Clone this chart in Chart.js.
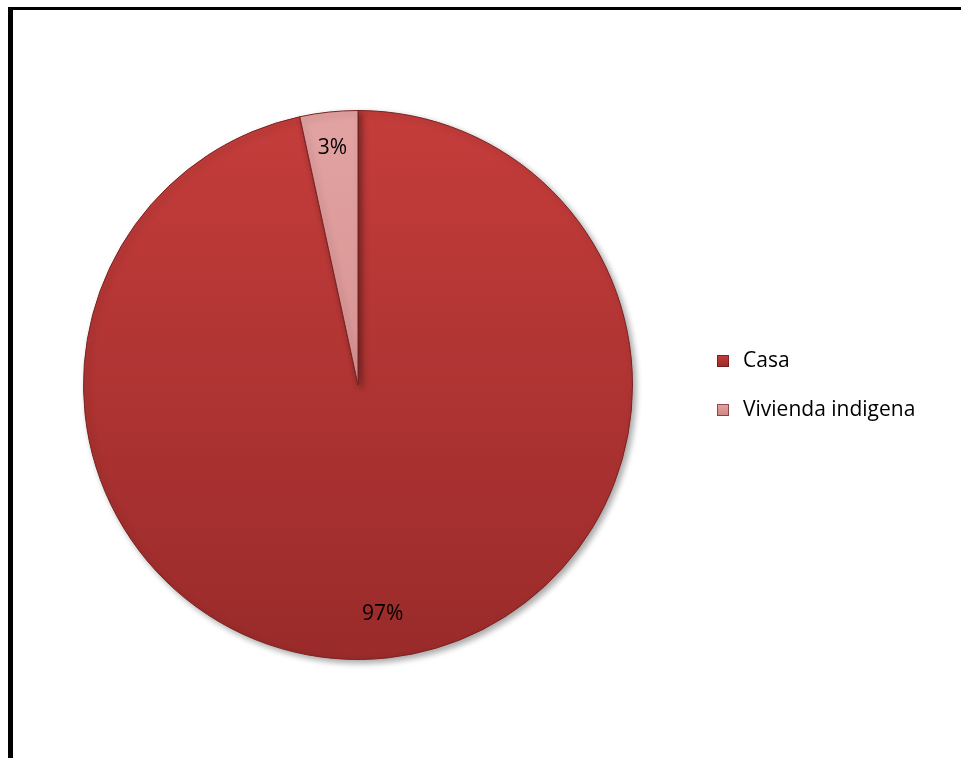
<!DOCTYPE html>
<html>
<head>
<meta charset="utf-8">
<script src="https://cdn.jsdelivr.net/npm/chart.js"></script>
<style>
  html, body { margin: 0; padding: 0; background: #fff; }
  #wrap { position: relative; width: 961px; height: 758px; }
</style>
</head>
<body>
<div id="wrap"><canvas id="chart" width="961" height="758"></canvas></div>
<script>
const labels = ["Casa", "Vivienda indigena"];
const values = [96.6, 3.4];

// top/bottom tones of each slice gradient
const topColors = ["#c43d3b", "#e2a3a2"];
const bottomColors = ["#992b2a", "#cf8584"];

const FONT = "'Open Sans', 'Liberation Sans', sans-serif";

function sliceFill(context) {
    const chart = context.chart;
    const area = chart.chartArea;
    if (!area) return topColors[context.dataIndex];
    const g = chart.ctx.createLinearGradient(0, area.top, 0, area.bottom);
    g.addColorStop(0, topColors[context.dataIndex]);
    g.addColorStop(1, bottomColors[context.dataIndex]);
    return g;
}

const framePlugin = {
    id: "frame",
    beforeDraw(chart) {
        const ctx = chart.ctx;
        ctx.save();
        ctx.fillStyle = "#000";
        ctx.fillRect(8, 7, 5, chart.height);
        ctx.fillRect(8, 7, chart.width, 3);
        ctx.restore();
    },
    beforeDatasetsDraw(chart) {
        const ctx = chart.ctx;
        ctx.save();
        ctx.shadowColor = "rgba(0,0,0,0.35)";
        ctx.shadowBlur = 6;
        ctx.shadowOffsetX = 3;
        ctx.shadowOffsetY = 3;
    },
    afterDatasetsDraw(chart) {
        const ctx = chart.ctx;
        ctx.restore();

        // percentage labels inside the slices
        const meta = chart.getDatasetMeta(0);
        const total = values.reduce((a, b) => a + b, 0);
        ctx.save();
        ctx.font = "21px " + FONT;
        ctx.fillStyle = "#000";
        ctx.textAlign = "center";
        ctx.textBaseline = "middle";
        meta.data.forEach((arc, i) => {
            const p = arc.getProps(["x", "y", "startAngle", "endAngle", "outerRadius"], true);
            const mid = (p.startAngle + p.endAngle) / 2;
            const r = p.outerRadius * (i === 0 ? 0.84 : 0.87);
            const txt = Math.round(values[i] / total * 100) + "%";
            ctx.fillText(txt, p.x + Math.cos(mid) * r, p.y + Math.sin(mid) * r);
        });

        // legend on the right
        ctx.font = "21px " + FONT;
        ctx.textAlign = "left";
        labels.forEach((lab, i) => {
            const y = 361 + i * 49;
            const g = ctx.createLinearGradient(0, y - 6, 0, y + 6);
            g.addColorStop(0, topColors[i]);
            g.addColorStop(1, bottomColors[i]);
            ctx.fillStyle = g;
            ctx.fillRect(717, y - 6, 12, 12);
            ctx.strokeStyle = "rgba(90,20,20,0.6)";
            ctx.lineWidth = 1;
            ctx.strokeRect(717.5, y - 5.5, 11, 11);
            ctx.fillStyle = "#000";
            ctx.fillText(lab, 743, y);
        });
        ctx.restore();
    }
};

const ctx = document.getElementById("chart").getContext("2d");
new Chart(ctx, {
    type: "pie",
    data: {
        labels: labels,
        datasets: [{
            data: values,
            backgroundColor: sliceFill,
            borderColor: "#7a2222",
            borderWidth: 1
        }]
    },
    options: {
        responsive: false,
        animation: false,
        layout: { padding: { left: 83, right: 328, top: 110, bottom: 98 } },
        plugins: {
            legend: { display: false },
            tooltip: { enabled: false }
        }
    },
    plugins: [framePlugin]
});
</script>
</body>
</html>
